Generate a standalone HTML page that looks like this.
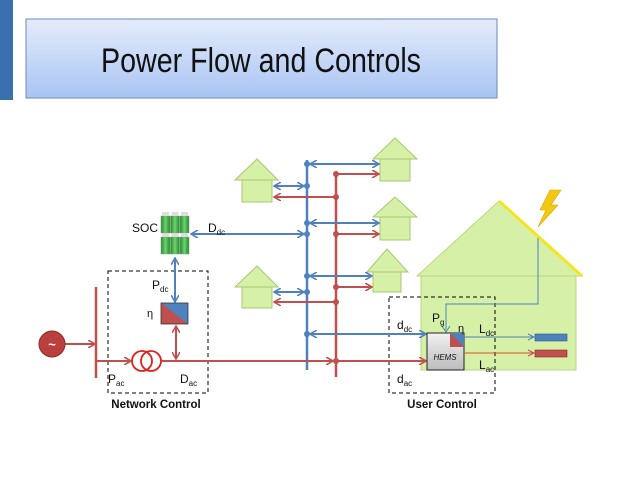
<!DOCTYPE html>
<html><head><meta charset="utf-8"><style>
html,body{margin:0;padding:0;background:#fff;width:638px;height:479px;overflow:hidden}
svg{display:block}
text{font-family:"Liberation Sans",sans-serif;fill:#111}
</style></head><body>
<svg width="638" height="479" viewBox="0 0 638 479" xmlns="http://www.w3.org/2000/svg">
<defs>
<linearGradient id="tg" x1="0" y1="0" x2="0" y2="1"><stop offset="0" stop-color="#e4ecfb"/><stop offset="1" stop-color="#a9c4f3"/></linearGradient>
<linearGradient id="hg" x1="0" y1="0" x2="0" y2="1"><stop offset="0" stop-color="#f2f2f2"/><stop offset="1" stop-color="#bdbdbd"/></linearGradient>
<linearGradient id="bg" x1="0" y1="0" x2="1" y2="0"><stop offset="0" stop-color="#1f8a2a"/><stop offset="0.5" stop-color="#6fd36f"/><stop offset="1" stop-color="#1f8a2a"/></linearGradient>
<marker id="ab" markerWidth="8" markerHeight="8" refX="7" refY="4" orient="auto-start-reverse" markerUnits="userSpaceOnUse"><path d="M0,0 L7,4 L0,8" fill="none" stroke="#4f81bd" stroke-width="1.6"/></marker>
<marker id="ar" markerWidth="8" markerHeight="8" refX="7" refY="4" orient="auto-start-reverse" markerUnits="userSpaceOnUse"><path d="M0,0 L7,4 L0,8" fill="none" stroke="#c0504d" stroke-width="1.6"/></marker>
</defs>
<rect x="0" y="0" width="13" height="100" fill="#3a6fb0"/>
<rect x="26" y="19" width="471" height="79" fill="url(#tg)" stroke="#6b8ab8" stroke-width="1"/>
<text x="101" y="72" font-size="34" textLength="320" lengthAdjust="spacingAndGlyphs">Power Flow and Controls</text>

<!-- big house -->
<polygon points="417,276 499,201 582,276" fill="#d6f0a8" stroke="#b8d880"/>
<rect x="421" y="276" width="155" height="94" fill="#d6f0a8" stroke="#b8d880"/>
<line x1="499" y1="201" x2="582" y2="276" stroke="#f5e520" stroke-width="3"/>
<polygon points="550,190 561,190 551,205 558,205 538,227 546,210 540,210" fill="#f2c811" stroke="#e0a800" stroke-width="0.6"/>

<!-- small houses -->
<g fill="#d6f0a8" stroke="#a8c870" stroke-width="1">
<polygon points="373,159 395,138 417,159"/><rect x="380" y="159" width="30" height="22"/>
<polygon points="373,217 395,197 417,217"/><rect x="380" y="217" width="30" height="23"/>
<polygon points="367,272 387,249 408,272"/><rect x="373" y="272" width="28" height="20"/>
<polygon points="235,180 257,159 278,180"/><rect x="242" y="180" width="30" height="22"/>
<polygon points="235,287 257,266 278,287"/><rect x="242" y="287" width="30" height="21"/>
</g>

<rect x="108" y="271" width="100" height="122" fill="none" stroke="#000" stroke-dasharray="4,3"/>
<text x="156" y="408" font-size="11.5" font-weight="bold" text-anchor="middle">Network Control</text>
<rect x="389" y="297" width="106" height="96" fill="none" stroke="#000" stroke-dasharray="4,3"/>
<text x="442" y="408" font-size="11.5" font-weight="bold" text-anchor="middle">User Control</text>

<line x1="307" y1="160" x2="307" y2="370" stroke="#4f81bd" stroke-width="2.5"/>
<line x1="336" y1="173" x2="336" y2="377" stroke="#c0504d" stroke-width="2.5"/>

<g stroke="#4f81bd" stroke-width="2" fill="none">
<line x1="310" y1="164" x2="379" y2="164" marker-start="url(#ab)" marker-end="url(#ab)"/>
<line x1="274" y1="186" x2="304" y2="186" marker-start="url(#ab)" marker-end="url(#ab)"/>
<line x1="310" y1="223" x2="379" y2="223" marker-start="url(#ab)" marker-end="url(#ab)"/>
<line x1="191" y1="234" x2="304" y2="234" marker-start="url(#ab)" marker-end="url(#ab)"/>
<line x1="310" y1="276" x2="372" y2="276" marker-start="url(#ab)" marker-end="url(#ab)"/>
<line x1="274" y1="292" x2="304" y2="292" marker-start="url(#ab)" marker-end="url(#ab)"/>
<line x1="310" y1="334" x2="426" y2="334" marker-start="url(#ab)" marker-end="url(#ab)"/>
<line x1="175" y1="258" x2="175" y2="302" marker-start="url(#ab)" marker-end="url(#ab)"/>
</g>
<g stroke="#c0504d" stroke-width="2" fill="none">
<line x1="336" y1="174" x2="379" y2="174" marker-end="url(#ar)"/>
<line x1="336" y1="197" x2="274" y2="197" marker-end="url(#ar)"/>
<line x1="336" y1="234" x2="379" y2="234" marker-end="url(#ar)"/>
<line x1="336" y1="287" x2="372" y2="287" marker-end="url(#ar)"/>
<line x1="336" y1="302" x2="274" y2="302" marker-end="url(#ar)"/>
<line x1="162" y1="361" x2="333" y2="361" marker-end="url(#ar)"/>
<line x1="336" y1="361" x2="426" y2="361" marker-end="url(#ar)"/>
<line x1="96" y1="361" x2="131" y2="361" marker-end="url(#ar)"/>
<line x1="65" y1="344" x2="95" y2="344" marker-end="url(#ar)"/>
<line x1="176" y1="326" x2="176" y2="359" marker-start="url(#ar)" marker-end="url(#ar)"/>
<line x1="96" y1="287" x2="96" y2="378" stroke-width="2.5"/>
</g>
<g fill="#4f81bd"><circle cx="307" cy="164" r="3"/><circle cx="307" cy="186" r="3"/><circle cx="307" cy="223" r="3"/><circle cx="307" cy="234" r="3"/><circle cx="307" cy="276" r="3"/><circle cx="307" cy="292" r="3"/><circle cx="307" cy="334" r="3"/></g>
<g fill="#c0504d"><circle cx="336" cy="174" r="3"/><circle cx="336" cy="197" r="3"/><circle cx="336" cy="234" r="3"/><circle cx="336" cy="287" r="3"/><circle cx="336" cy="302" r="3"/><circle cx="336" cy="361" r="3"/></g>

<circle cx="52" cy="344" r="13" fill="#b9403c" stroke="#8c2a28"/>
<text x="52" y="349" font-size="13" style="fill:#fff" text-anchor="middle" font-weight="bold">~</text>
<circle cx="142" cy="361" r="10" fill="none" stroke="#e02020" stroke-width="1.8"/>
<circle cx="151" cy="361" r="10" fill="none" stroke="#e02020" stroke-width="1.8"/>
<rect x="161" y="303" width="27" height="21" fill="#4f81bd"/>
<polygon points="161,303 188,324 161,324" fill="#c0504d"/>
<rect x="161" y="303" width="27" height="21" fill="none" stroke="#333" stroke-width="0.8"/>
<g fill="url(#bg)" stroke="#8a9a8a" stroke-width="0.5">
<rect x="161" y="216" width="9" height="17"/><rect x="170.5" y="216" width="9" height="17"/><rect x="180" y="216" width="9" height="17"/>
<rect x="161" y="237" width="9" height="17"/><rect x="170.5" y="237" width="9" height="17"/><rect x="180" y="237" width="9" height="17"/>
</g>
<g fill="#ddd"><rect x="162" y="212" width="7" height="4"/><rect x="171.5" y="212" width="7" height="4"/><rect x="181" y="212" width="7" height="4"/><rect x="162" y="233" width="7" height="4"/><rect x="171.5" y="233" width="7" height="4"/><rect x="181" y="233" width="7" height="4"/></g>

<polyline points="538,238 538,304 446,304 446,330" fill="none" stroke="#4f81bd" stroke-width="1"/>
<path d="M442,326 L446,332 L450,326" fill="none" stroke="#4f81bd" stroke-width="1"/>
<rect x="427" y="333" width="37" height="37" fill="url(#hg)" stroke="#222" stroke-width="1"/>
<rect x="450" y="333" width="14" height="14" fill="#4f81bd"/>
<polygon points="450,333 464,347 450,347" fill="#c0504d"/>
<text x="445" y="360" font-size="8" font-style="italic" text-anchor="middle">HEMS</text>
<line x1="464" y1="337" x2="533" y2="337" stroke="#4f81bd" stroke-width="1"/>
<path d="M528,334 L534,337 L528,340" fill="none" stroke="#4f81bd"/>
<line x1="464" y1="353" x2="533" y2="353" stroke="#e05020" stroke-width="1"/>
<path d="M528,350 L534,353 L528,356" fill="none" stroke="#c0504d"/>
<rect x="535" y="334" width="32" height="7" fill="#4f81bd" stroke="#2c5a8c" stroke-width="0.6"/>
<rect x="535" y="350" width="32" height="7" fill="#c0504d" stroke="#8c2a28" stroke-width="0.6"/>

<g font-size="12">
<text x="132" y="232">SOC</text>
<text x="208" y="232">D<tspan font-size="8" dy="3">dc</tspan></text>
<text x="152" y="289">P<tspan font-size="8" dy="3">dc</tspan></text>
<text x="147" y="317" font-size="11">η</text>
<text x="108" y="383">P<tspan font-size="8" dy="3">ac</tspan></text>
<text x="180" y="383">D<tspan font-size="8" dy="3">ac</tspan></text>
<text x="397" y="329">d<tspan font-size="8" dy="3">dc</tspan></text>
<text x="397" y="383">d<tspan font-size="8" dy="3">ac</tspan></text>
<text x="432" y="322">P<tspan font-size="8" dy="3">g</tspan></text>
<text x="458" y="332" font-size="11">η</text>
<text x="479" y="333">L<tspan font-size="8" dy="3">dc</tspan></text>
<text x="479" y="369">L<tspan font-size="8" dy="3">ac</tspan></text>
</g>
</svg>
</body></html>
